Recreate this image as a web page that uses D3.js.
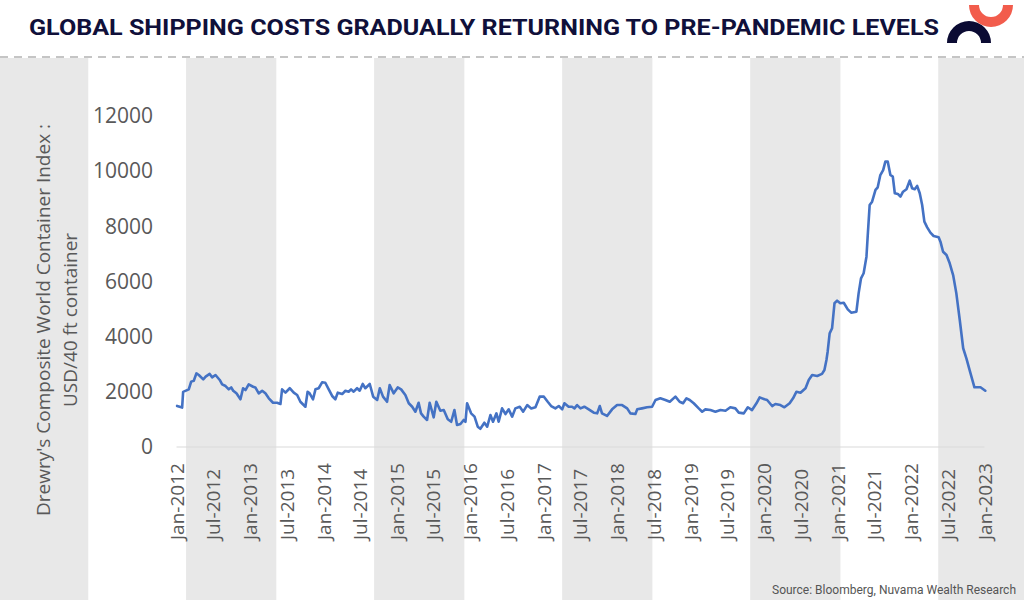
<!DOCTYPE html>
<html>
<head>
<meta charset="utf-8">
<script src="https://cdn.jsdelivr.net/npm/d3@7"></script>
<style>
  body { margin: 0; background: #fff; }
  svg { display: block; }
</style>
</head>
<body>
<svg width="1024" height="600"></svg>
<script>
// Drewry WCI (USD per 40ft container)
const dates = [
  "2012-01-04","2012-01-29","2012-02-03","2012-03-02","2012-03-14","2012-03-27","2012-04-09","2012-04-21",
  "2012-05-13","2012-05-25","2012-06-14","2012-06-26","2012-07-13","2012-08-03","2012-08-15","2012-09-01",
  "2012-09-17","2012-09-29","2012-10-09","2012-10-25","2012-11-14","2012-11-27","2012-12-09","2012-12-25",
  "2013-01-16","2013-01-27","2013-02-13","2013-03-02","2013-03-18","2013-04-04","2013-04-25","2013-05-15",
  "2013-06-01","2013-06-09","2013-06-26","2013-07-17","2013-08-06","2013-08-23","2013-09-08","2013-10-03",
  "2013-10-14","2013-10-24","2013-11-10","2013-11-22","2013-12-08","2013-12-25","2014-01-10","2014-01-27",
  "2014-02-13","2014-03-01","2014-03-13","2014-04-04","2014-04-20","2014-05-06","2014-05-18","2014-05-31",
  "2014-06-17","2014-06-30","2014-07-15","2014-07-28","2014-08-19","2014-09-05","2014-09-25","2014-10-08",
  "2014-10-24","2014-11-13","2014-11-26","2014-12-16","2015-01-05","2015-01-22","2015-02-12","2015-03-01",
  "2015-03-18","2015-04-03","2015-04-19","2015-05-01","2015-05-14","2015-05-31","2015-06-13","2015-07-03",
  "2015-07-16","2015-08-05","2015-08-22","2015-09-11","2015-09-28","2015-10-14","2015-10-27","2015-11-13",
  "2015-11-29","2015-12-08","2015-12-16","2016-01-05","2016-01-22","2016-02-07","2016-02-20","2016-03-11",
  "2016-03-25","2016-04-10","2016-04-23","2016-05-10","2016-05-21","2016-06-07","2016-06-24","2016-07-10",
  "2016-07-27","2016-08-12","2016-09-03","2016-09-20","2016-10-10","2016-10-30","2016-11-20","2016-12-11",
  "2017-01-01","2017-01-20","2017-02-06","2017-02-27","2017-03-16","2017-04-02","2017-04-13","2017-05-04",
  "2017-05-21","2017-06-02","2017-06-15","2017-07-02","2017-07-21","2017-08-12","2017-09-06","2017-09-23",
  "2017-10-06","2017-10-17","2017-11-11","2017-12-06","2017-12-31","2018-01-25","2018-02-19","2018-03-07",
  "2018-04-01","2018-04-10","2018-05-04","2018-05-29","2018-06-23","2018-07-10","2018-08-03","2018-08-28",
  "2018-09-19","2018-10-17","2018-11-07","2018-11-24","2018-12-11","2018-12-27","2019-01-16","2019-02-10",
  "2019-02-27","2019-03-15","2019-04-09","2019-05-04","2019-05-29","2019-06-23","2019-07-17","2019-08-11",
  "2019-08-28","2019-09-22","2019-10-12","2019-11-02","2019-11-24","2019-12-10","2020-01-03","2020-01-16",
  "2020-02-10","2020-02-26","2020-03-22","2020-04-11","2020-05-07","2020-05-24","2020-06-10","2020-06-30",
  "2020-07-25","2020-08-10","2020-08-27","2020-09-21","2020-10-15","2020-10-27","2020-11-06","2020-11-12",
  "2020-11-22","2020-12-04","2020-12-16","2020-12-29","2021-01-14","2021-01-31","2021-02-20","2021-03-09",
  "2021-04-04","2021-04-15","2021-04-27","2021-05-10","2021-05-24","2021-05-30","2021-06-09","2021-06-21",
  "2021-07-08","2021-07-19","2021-08-01","2021-08-15","2021-08-26","2021-09-07","2021-09-20","2021-10-02",
  "2021-10-12","2021-10-27","2021-11-09","2021-11-22","2021-12-09","2021-12-25","2022-01-06","2022-01-19",
  "2022-01-31","2022-02-13","2022-02-25","2022-03-08","2022-03-22","2022-04-07","2022-04-23","2022-05-18",
  "2022-05-27","2022-06-09","2022-06-26","2022-07-12","2022-07-29","2022-08-14","2022-08-31","2022-09-17",
  "2022-10-03","2022-10-19","2022-11-12","2022-12-12","2023-01-05"
];
const values = [
  1490,1430,2000,2090,2370,2400,2670,2610,
  2450,2550,2650,2525,2610,2430,2270,2210,
  2090,2160,2040,1945,1730,2130,2065,2270,
  2185,2160,1945,2040,1945,1765,1605,1605,
  1560,2090,1970,2130,1970,1885,1640,1460,
  2005,1945,1730,2090,2130,2345,2330,2090,
  1850,1730,1970,1920,2040,2005,2090,2005,
  2130,2040,2285,2130,2285,1825,1705,2130,
  1825,1640,2250,1945,2160,2090,1885,1585,
  1460,1280,1605,1220,1100,980,1605,1075,
  1640,1315,1340,1005,915,1340,800,835,
  980,915,1585,1220,1100,735,660,880,
  735,1160,915,1220,915,1400,1195,1365,
  1100,1400,1460,1280,1520,1400,1440,1825,
  1825,1640,1485,1400,1485,1365,1585,1460,
  1460,1400,1520,1400,1460,1365,1245,1220,
  1485,1220,1125,1365,1520,1520,1400,1220,
  1195,1365,1400,1440,1460,1705,1765,1705,
  1640,1825,1640,1585,1765,1705,1585,1400,
  1280,1365,1340,1280,1340,1315,1440,1400,
  1245,1220,1440,1340,1585,1800,1730,1705,
  1485,1560,1520,1440,1585,1765,2005,1970,
  2130,2430,2610,2575,2650,2790,3155,3455,
  4120,4305,5210,5305,5210,5230,4990,4870,
  4905,5570,6115,6300,6900,7625,8775,8895,
  9320,9415,9860,10040,10345,10345,9860,9800,
  9200,9175,9075,9255,9345,9655,9380,9345,
  9465,9200,8775,8170,7965,7770,7650,7605,
  7445,7080,6960,6660,6235,5570,4605,3580,
  3215,2790,2165,2165,2040
];
const yTicks = [0, 2000, 4000, 6000, 8000, 10000, 12000];
const xStart = "2012-01-01", xEnd = "2023-01-01";

const title = "GLOBAL SHIPPING COSTS GRADUALLY RETURNING TO PRE-PANDEMIC LEVELS";
const yTitle = ["Drewry's Composite World Container Index :", "USD/40 ft container"];
const source = "Source: Bloomberg, Nuvama Wealth Research";

const W = 1024, H = 600;
const plot = {left: 176.5, right: 984.5, top: 116, bottom: 447};
const axisGrey = "#595959";

const parse = d3.timeParse("%Y-%m-%d");
const series = dates.map((d, i) => ({date: parse(d), value: values[i]}));

const svg = d3.select("svg");

// background stripes (template decoration)
const stripe = d3.scaleBand()
  .domain(d3.range(6))
  .range([-2, 1028.5])
  .paddingInner(0.52)
  .paddingOuter(0);

svg.append("g")
  .selectAll("rect")
  .data(stripe.domain())
  .join("rect")
    .attr("x", d => stripe(d))
    .attr("y", 58)
    .attr("width", stripe.bandwidth())
    .attr("height", H - 58)
    .attr("fill", "#e8e8e8");

// dashed separator under the header
svg.append("line")
  .attr("x1", 0).attr("x2", W)
  .attr("y1", 57).attr("y2", 57)
  .attr("stroke", "#b3b3b3")
  .attr("stroke-width", 1.5)
  .attr("stroke-dasharray", "8,6");

// Title
svg.append("text")
  .attr("x", 29)
  .attr("y", 35)
  .attr("font-family", "Roboto, 'Open Sans', sans-serif")
  .attr("font-weight", 700)
  .attr("font-size", 22)
  .attr("fill", "#10103a")
  .attr("textLength", 910)
  .attr("lengthAdjust", "spacingAndGlyphs")
  .text(title);

// logo: two half rings
const ring = d3.arc().innerRadius(12).outerRadius(22);
svg.append("path")
  .attr("transform", "translate(969,43)")
  .attr("d", ring({startAngle: -Math.PI / 2, endAngle: Math.PI / 2}))
  .attr("fill", "#0b0b33");
svg.append("path")
  .attr("transform", "translate(991,5)")
  .attr("d", ring({startAngle: Math.PI / 2, endAngle: 3 * Math.PI / 2}))
  .attr("fill", "#f25c4c");

// scales
const x = d3.scaleTime()
  .domain([parse(xStart), parse(xEnd)])
  .range([plot.left, plot.right]);

const y = d3.scaleLinear()
  .domain([0, 12000])
  .range([plot.bottom, plot.top]);

// baseline
svg.append("line")
  .attr("x1", x.range()[0]).attr("x2", x.range()[1])
  .attr("y1", y(0)).attr("y2", y(0))
  .attr("stroke", "#d9d9d9")
  .attr("stroke-width", 1.2);

// y axis labels
const yAxis = svg.append("g")
  .attr("transform", "translate(153,0)")
  .call(d3.axisLeft(y).tickValues(yTicks).tickSize(0).tickPadding(0).tickFormat(d3.format("d")));
yAxis.select(".domain").remove();
yAxis.selectAll("text")
  .attr("font-family", "'Open Sans', sans-serif")
  .attr("font-size", 21)
  .attr("fill", axisGrey);

// x axis labels, rotated, bottom aligned
const xTicks = d3.timeMonth.every(6).range(parse(xStart), d3.timeDay.offset(parse(xEnd), 1));
const xAxis = svg.append("g")
  .attr("transform", "translate(0," + y(0) + ")")
  .call(d3.axisBottom(x).tickValues(xTicks).tickSize(0).tickFormat(d3.timeFormat("%b-%Y")));
xAxis.select(".domain").remove();
xAxis.selectAll("text")
  .attr("font-family", "'Open Sans', sans-serif")
  .attr("font-size", 19)
  .attr("fill", axisGrey)
  .attr("text-anchor", "start")
  .attr("transform", "translate(0,93) rotate(-90)")
  .attr("x", 0)
  .attr("y", 0)
  .attr("dy", "0.35em");

// y axis title
svg.append("g")
  .attr("transform", "translate(57,320) rotate(-90)")
  .selectAll("text")
  .data(yTitle)
  .join("text")
    .attr("x", 0)
    .attr("y", (d, i) => (i - 0.5) * 27)
    .attr("dy", "0.35em")
    .attr("text-anchor", "middle")
    .attr("font-family", "'Open Sans', sans-serif")
    .attr("font-size", 19)
    .attr("fill", axisGrey)
    .text(d => d);

// the index line
const line = d3.line()
  .x(d => x(d.date))
  .y(d => y(d.value));

svg.append("path")
  .datum(series)
  .attr("fill", "none")
  .attr("stroke", "#4472c4")
  .attr("stroke-width", 2.6)
  .attr("stroke-linejoin", "round")
  .attr("stroke-linecap", "round")
  .attr("d", line);

// source
svg.append("text")
  .attr("x", 1016)
  .attr("y", 594)
  .attr("text-anchor", "end")
  .attr("font-family", "Roboto, sans-serif")
  .attr("font-size", 12)
  .attr("fill", "#555")
  .attr("textLength", 244)
  .attr("lengthAdjust", "spacingAndGlyphs")
  .text(source);
</script>
</body>
</html>
